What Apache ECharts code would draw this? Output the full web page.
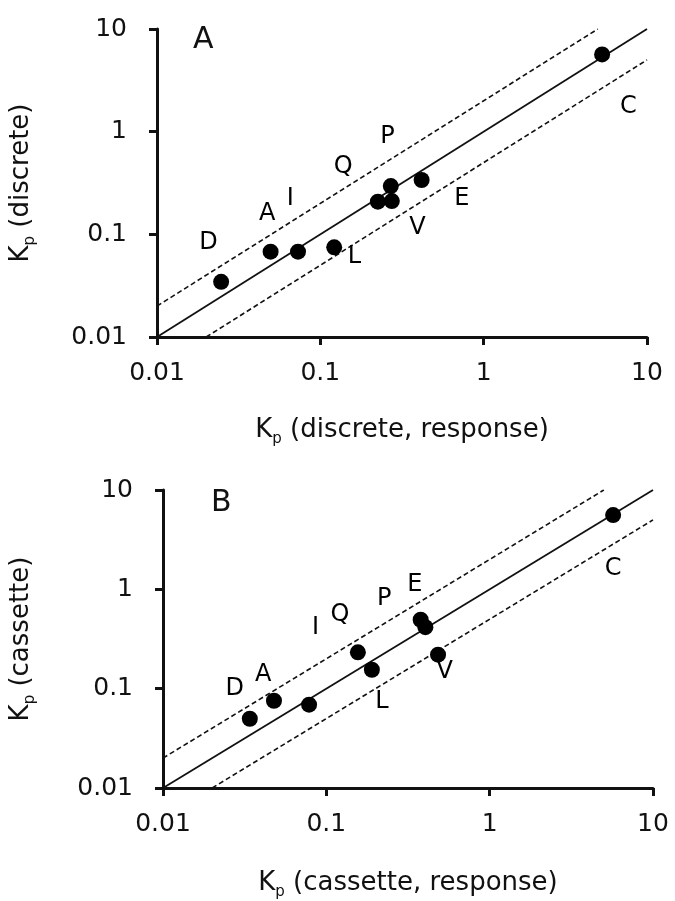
<!DOCTYPE html>
<html>
<head>
<meta charset="utf-8">
<script src="https://cdn.jsdelivr.net/npm/echarts@6/dist/echarts.min.js"></script>
<style>
html,body{margin:0;padding:0;background:#fff;}
#chart{width:675px;height:901px;}
</style>
</head>
<body>
<div id="chart"></div>
<script>
// ---- Data ----
const tickLabels = ['0.01', '0.1', '1', '10'];

// Panel A: Kp (discrete, response) vs Kp (discrete)
const pointsAX = [0.0247, 0.0496, 0.073, 0.1216, 0.225, 0.274, 0.270, 0.417, 5.31];
const pointsAY = [0.0345, 0.0678, 0.0678, 0.0747, 0.208, 0.211, 0.295, 0.338, 5.66];
const lettersA = ['D', 'A', 'I', 'Q', 'P', 'E', 'V', 'L', 'C'];
const letterAX = [0.0207, 0.0473, 0.0655, 0.138, 0.258, 0.736, 0.393, 0.162, 7.7];
const letterAY = [0.0836, 0.16, 0.221, 0.455, 0.89, 0.221, 0.117, 0.0605, 1.75];

// Panel B: Kp (cassette, response) vs Kp (cassette)
const pointsBX = [0.034, 0.0478, 0.0784, 0.156, 0.190, 0.378, 0.404, 0.483, 5.70];
const pointsBY = [0.0498, 0.0756, 0.069, 0.232, 0.155, 0.494, 0.416, 0.220, 5.59];
const lettersB = ['D', 'A', 'I', 'Q', 'P', 'E', 'V', 'L', 'C'];
const letterBX = [0.0275, 0.041, 0.086, 0.121, 0.226, 0.348, 0.531, 0.219, 5.7];
const letterBY = [0.1, 0.137, 0.41, 0.553, 0.81, 1.1, 0.147, 0.0745, 1.6];

// Reference lines: unity and two-fold
const unityX = [0.01, 10];
const unityY = [0.01, 10];
const upperX = [0.01, 5];
const upperY = [0.02, 10];
const lowerX = [0.02, 10];
const lowerY = [0.01, 5];

// ---- Chart ----
const FONT = '"DejaVu Sans", "Liberation Sans", Arial, sans-serif';
const INK = '#111';
const zip = (xs, ys) => xs.map((x, i) => [x, ys[i]]);
const zip3 = (xs, ys, ls) => xs.map((x, i) => [x, ys[i], ls[i]]);

function axisName(rest) {
  return '{k|K}{p|p}{t|' + rest + '}';
}
const nameRich = {
  k: { fontSize: 26, fontFamily: FONT, color: INK, lineHeight: 34 },
  t: { fontSize: 26, fontFamily: FONT, color: INK, lineHeight: 34 },
  p: { fontSize: 15, fontFamily: FONT, color: INK, lineHeight: 15, verticalAlign: 'bottom' }
};

function logAxis(gridIndex, name, nameGap, isY) {
  return {
    type: 'log', logBase: 10, min: 0.01, max: 10, gridIndex: gridIndex,
    name: name, nameLocation: 'middle', nameGap: nameGap,
    nameTextStyle: { rich: nameRich },
    axisLine: { show: true, onZero: false, lineStyle: { color: INK, width: 3 } },
    axisTick: { show: true, inside: false, length: 8, lineStyle: { color: INK, width: 3 } },
    minorTick: { show: false },
    splitLine: { show: false },
    axisLabel: {
      fontSize: 25, fontFamily: FONT, color: INK, margin: isY ? 30 : 24,
      formatter: v => tickLabels[Math.round(Math.log10(v)) + 2]
    }
  };
}

function lineSeries(xi, yi, xs, ys, dashed) {
  return {
    type: 'line', xAxisIndex: xi, yAxisIndex: yi, data: zip(xs, ys),
    symbol: 'none', silent: true, z: 1,
    lineStyle: { color: INK, width: dashed ? 1.6 : 1.8, type: dashed ? [5, 3] : 'solid' }
  };
}

function letterSeries(xi, yi, xs, ys, ls) {
  return {
    type: 'scatter', xAxisIndex: xi, yAxisIndex: yi, data: zip3(xs, ys, ls),
    symbolSize: 0, itemStyle: { color: '#000', opacity: 1 }, silent: true, z: 3,
    label: {
      show: true, position: 'inside', formatter: p => p.value[2],
      fontSize: 24, fontFamily: FONT, color: '#000', opacity: 1,
      textBorderWidth: 0, textShadowBlur: 0
    }
  };
}

function pointSeries(xi, yi, xs, ys) {
  return {
    type: 'scatter', xAxisIndex: xi, yAxisIndex: yi, data: zip(xs, ys),
    symbol: 'circle', symbolSize: 16, itemStyle: { color: '#000', opacity: 1 }, z: 4
  };
}

const chart = echarts.init(document.getElementById('chart'), null, { renderer: 'canvas' });
chart.setOption({
  animation: false,
  backgroundColor: '#fff',
  grid: [
    { left: 152, top: 29, width: 495, height: 308 },
    { left: 163, top: 490, width: 490, height: 303 }
  ],
  xAxis: [
    logAxis(0, axisName(' (discrete, response)'), 76, false),
    logAxis(1, axisName(' (cassette, response)'), 78, false)
  ],
  yAxis: [
    logAxis(0, axisName(' (discrete)'), 119, true),
    logAxis(1, axisName(' (cassette)'), 125, true)
  ],
  graphic: [
    { type: 'text', left: 193, top: 25, style: { text: 'A', fontSize: 30, fontFamily: FONT, fill: INK } },
    { type: 'text', left: 211, top: 488, style: { text: 'B', fontSize: 30, fontFamily: FONT, fill: INK } }
  ],
  series: [
    lineSeries(0, 0, unityX, unityY, false),
    lineSeries(0, 0, upperX, upperY, true),
    lineSeries(0, 0, lowerX, lowerY, true),
    pointSeries(0, 0, pointsAX, pointsAY),
    letterSeries(0, 0, letterAX, letterAY, lettersA),
    lineSeries(1, 1, unityX, unityY, false),
    lineSeries(1, 1, upperX, upperY, true),
    lineSeries(1, 1, lowerX, lowerY, true),
    pointSeries(1, 1, pointsBX, pointsBY),
    letterSeries(1, 1, letterBX, letterBY, lettersB)
  ]
});
</script>
</body>
</html>
